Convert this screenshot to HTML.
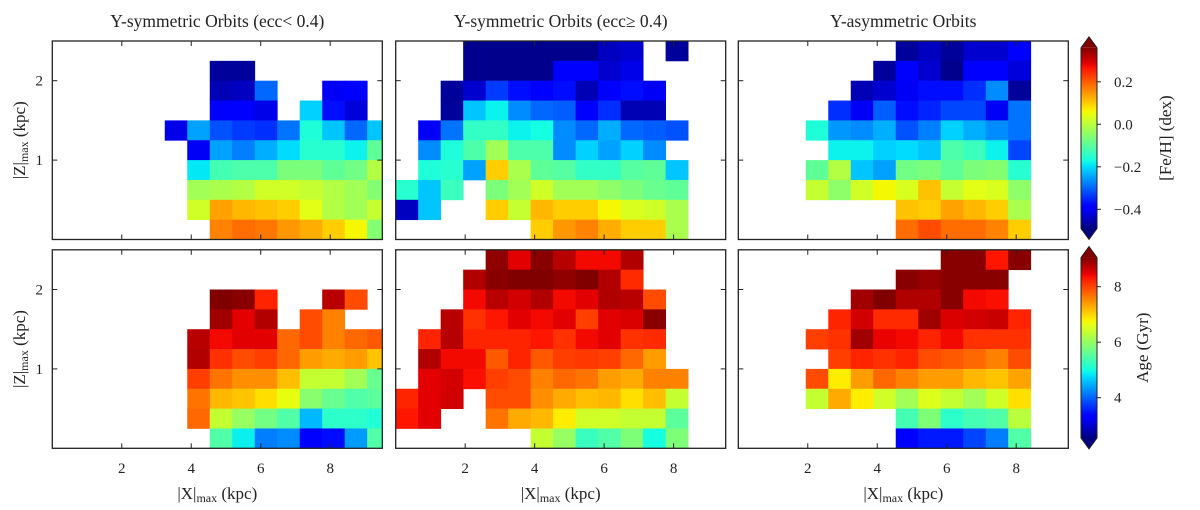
<!DOCTYPE html>
<html><head><meta charset="utf-8"><style>
html,body{margin:0;padding:0;background:#fff;}
svg{display:block;font-family:"Liberation Serif",serif;}
</style></head><body>
<svg id="chart" width="1200" height="510" viewBox="0 0 1200 510" xmlns="http://www.w3.org/2000/svg"></svg>
<script>
const _ = null;
const xTicks = [2, 4, 6, 8];
const yTicks = [1, 2];
const fehTicks = [0.2, 0.0, -0.2, -0.4];
const fehTickLabels = ["0.2", "0.0", "\u22120.2", "\u22120.4"];
const ageTicks = [8, 6, 4];
const ageTickLabels = ["8", "6", "4"];
const titles = ["Y-symmetric Orbits (ecc< 0.4)", "Y-symmetric Orbits (ecc\u2265 0.4)", "Y-asymmetric Orbits"];
const fehRange = [-0.49, 0.36];
const ageRange = [2.55, 9.05];
const fehCellRange = [-0.5, 0.38];
const ageCellRange = [2.25, 9.3];
const binWidth = 0.6475;
const binHeight = 0.25;
// rows listed from top (|Z| 2.25-2.5) to bottom (0-0.25), 15 |X| bins each
const feh1 = [
[_,_,_,_,_,_,_,_,_,_,_,_,_,_,_],
[_,_,_,_,_,_,_,-0.48,-0.48,_,_,_,_,_,_],
[_,_,_,_,_,_,_,-0.46,-0.45,-0.30,_,_,-0.41,-0.40,_],
[_,_,_,_,_,_,_,-0.40,-0.40,-0.42,_,-0.21,-0.38,-0.43,_],
[_,_,_,_,_,-0.42,-0.25,-0.32,-0.34,-0.35,-0.29,-0.16,-0.22,-0.30,-0.22],
[_,_,_,_,_,_,-0.41,-0.25,-0.28,-0.24,-0.20,-0.15,-0.15,-0.18,-0.09],
[_,_,_,_,_,_,-0.19,-0.12,-0.11,-0.11,-0.06,-0.06,-0.09,-0.07,0.00],
[_,_,_,_,_,_,-0.02,-0.01,0.00,0.03,0.03,0.02,0.00,-0.02,-0.05],
[_,_,_,_,_,_,0.03,0.15,0.13,0.12,0.11,0.05,0.00,-0.02,0.02],
[_,_,_,_,_,_,_,0.18,0.20,0.19,0.16,0.14,0.11,0.07,-0.05]];
const feh2 = [
[_,_,_,-0.49,-0.49,-0.49,-0.49,-0.49,-0.49,-0.45,-0.44,_,-0.48,_,_],
[_,_,_,-0.49,-0.49,-0.49,-0.49,-0.40,-0.40,-0.44,-0.42,_,_,_,_],
[_,_,-0.48,-0.44,-0.34,-0.38,-0.40,-0.38,-0.46,-0.40,-0.38,-0.41,_,_,_],
[_,_,-0.48,-0.22,-0.18,-0.27,-0.30,-0.31,-0.39,-0.35,-0.46,-0.46,_,_,_],
[_,-0.41,-0.29,-0.14,-0.14,-0.18,-0.17,-0.27,-0.30,-0.24,-0.30,-0.31,-0.32,_,_],
[_,-0.27,-0.16,-0.11,-0.02,-0.11,-0.11,-0.27,-0.21,-0.25,-0.21,-0.27,_,_,_],
[_,-0.16,-0.15,-0.25,0.11,-0.01,-0.09,-0.10,-0.14,-0.14,-0.10,-0.09,-0.22,_,_],
[-0.15,-0.22,-0.13,_,-0.06,-0.02,0.03,-0.02,-0.02,-0.04,-0.06,-0.08,-0.09,_,_],
[-0.45,-0.22,_,_,0.11,0.02,0.13,0.11,0.11,0.07,0.04,0.03,-0.01,_,_],
[_,_,_,_,_,_,0.11,0.16,0.18,0.14,0.11,0.11,-0.01,_,_]];
const feh3 = [
[_,_,_,_,_,_,_,-0.48,-0.45,-0.48,-0.44,-0.44,-0.39,_,_],
[_,_,_,_,_,_,-0.48,-0.40,-0.44,-0.49,-0.40,-0.40,-0.43,_,_],
[_,_,_,_,_,-0.46,-0.44,-0.41,-0.38,-0.38,-0.35,-0.27,-0.48,_,_],
[_,_,_,_,-0.35,-0.41,-0.31,-0.38,-0.36,-0.33,-0.33,-0.41,-0.29,_,_],
[_,_,_,-0.16,-0.26,-0.27,-0.24,-0.32,-0.28,-0.21,-0.24,-0.27,-0.29,_,_],
[_,_,_,_,-0.18,-0.18,-0.21,-0.20,-0.22,-0.11,-0.13,-0.18,-0.33,_,_],
[_,_,_,-0.09,0.00,-0.22,-0.25,-0.07,-0.06,-0.09,-0.06,-0.05,-0.15,_,_],
[_,_,_,0.02,-0.04,0.03,0.07,0.04,0.12,0.02,0.05,0.04,-0.04,_,_],
[_,_,_,_,_,_,_,0.12,0.11,0.15,0.13,0.11,-0.01,_,_],
[_,_,_,_,_,_,_,0.20,0.23,0.20,0.20,0.18,0.11,_,_]];
const age1 = [
[_,_,_,_,_,_,_,_,_,_,_,_,_,_,_],
[_,_,_,_,_,_,_,_,_,_,_,_,_,_,_],
[_,_,_,_,_,_,_,9.3,9.25,8.4,_,_,8.95,8.1,_],
[_,_,_,_,_,_,_,9.1,8.7,9.0,_,8.1,7.7,_,_],
[_,_,_,_,_,_,8.95,8.6,8.7,8.7,7.9,8.1,7.7,7.9,8.0],
[_,_,_,_,_,_,9.0,8.3,8.1,8.2,7.9,7.5,7.4,7.5,7.2],
[_,_,_,_,_,_,8.2,7.8,7.6,7.6,7.25,6.4,6.4,6.1,5.6],
[_,_,_,_,_,_,7.8,7.3,7.2,7.0,6.7,5.9,5.6,5.4,5.5],
[_,_,_,_,_,_,7.9,6.4,6.0,5.7,5.4,4.4,5.1,5.1,5.0],
[_,_,_,_,_,_,_,5.4,4.8,4.0,4.1,3.1,3.2,4.2,5.4]];
const age2 = [
[_,_,_,_,9.2,8.7,9.25,8.95,8.6,8.6,9.0,_,_,_,_],
[_,_,_,9.0,9.25,9.3,9.3,9.2,9.3,9.0,8.35,_,_,_,_],
[_,_,_,8.6,8.95,8.8,9.0,8.6,8.7,9.0,8.95,8.1,_,_,_],
[_,_,8.95,8.3,8.5,8.7,8.6,8.7,8.2,8.7,8.75,9.25,_,_,_],
[_,8.4,8.95,8.4,8.4,8.4,8.5,8.3,8.6,8.7,8.3,8.35,_,_,_],
[_,9.0,8.6,8.6,8.0,8.4,8.0,8.2,8.25,8.2,7.9,7.5,_,_,_],
[_,8.7,8.8,8.55,8.2,8.1,7.7,7.9,7.8,7.5,7.4,7.7,7.7,_,_],
[8.4,8.7,8.8,_,8.1,8.1,7.6,7.4,7.25,7.3,7.0,7.25,6.4,_,_],
[8.5,8.7,_,_,7.8,7.4,7.3,6.9,6.5,6.5,6.4,6.4,5.5,_,_],
[_,_,_,_,_,_,6.4,6.0,5.2,5.4,5.8,4.9,5.8,_,_]];
const age3 = [
[_,_,_,_,_,_,_,_,_,9.25,9.25,8.5,9.25,_,_],
[_,_,_,_,_,_,_,9.25,9.15,9.25,9.25,9.25,_,_,_],
[_,_,_,_,_,9.1,9.3,9.0,9.0,9.25,8.6,8.55,_,_,_],
[_,_,_,_,8.4,8.8,8.35,8.35,9.1,8.75,8.8,8.85,8.4,_,_],
[_,_,_,8.2,8.3,9.1,8.65,8.6,8.4,8.6,8.3,8.3,8.3,_,_],
[_,_,_,_,8.2,8.4,8.3,8.4,8.1,8.0,7.9,7.7,8.1,_,_],
[_,_,_,8.1,6.9,7.5,7.9,7.7,7.5,7.5,7.3,7.2,7.45,_,_],
[_,_,_,6.4,7.4,6.9,6.5,6.1,6.6,6.4,6.1,6.5,7.0,_,_],
[_,_,_,_,_,_,_,5.3,5.8,5.1,5.3,5.4,6.3,_,_],
[_,_,_,_,_,_,_,3.1,3.3,3.3,3.6,4.0,5.4,_,_]];

const NS = "http://www.w3.org/2000/svg";
const svg = document.getElementById("chart");
function mk(tag, attrs, parent) {
  const e = document.createElementNS(NS, tag);
  for (const k in attrs) e.setAttribute(k, attrs[k]);
  (parent || svg).appendChild(e);
  return e;
}
function clip(v){return Math.max(0,Math.min(1,v));}
function interp(pts, t){
  for (let i = 0; i < pts.length - 1; i++) {
    const a = pts[i], b = pts[i+1];
    if (t <= b[0]) return a[1] + (b[1]-a[1]) * (t - a[0]) / (b[0] - a[0]);
  }
  return pts[pts.length-1][1];
}
const JR = [[0,0],[0.35,0],[0.66,1],[0.89,1],[1,0.5]];
const JG = [[0,0],[0.125,0],[0.375,1],[0.64,1],[0.91,0],[1,0]];
const JB = [[0,0.5],[0.11,1],[0.34,1],[0.65,0],[1,0]];
function jet(t){
  t = clip(t);
  return "rgb(" + Math.round(interp(JR,t)*255) + "," + Math.round(interp(JG,t)*255) + "," + Math.round(interp(JB,t)*255) + ")";
}
const panelX0 = [52.3, 395.7, 738.3];
const panelY0 = [41, 249.8];
const pw = 330, ph = 198.5;
const xMax = 9.5, yMax = 2.5;

function drawPanel(col, row, data, range, name) {
  const g = mk("g", {});
  
  
  const x0 = panelX0[col], y0 = panelY0[row];
  const sx = v => x0 + v / xMax * pw;
  const sy = v => y0 + ph - v / yMax * ph;
  const cp = mk("clipPath", {id: "cp" + col + row}, g);
  mk("rect", {x: x0, y: y0, width: pw, height: ph}, cp);
  const cells = mk("g", {"clip-path": "url(#cp" + col + row + ")"}, g);
  const nRows = data.length;
  data.forEach((rowArr, ri) => {
    const zb = (nRows - 1 - ri) * binHeight;
    rowArr.forEach((v, ci) => {
      if (v === null) return;
      const xa = sx(ci * binWidth), xb = sx((ci + 1) * binWidth);
      const ya = sy(zb + binHeight), yb = sy(zb);
      const r = mk("rect", {x: xa, y: ya, width: xb - xa + 0.4, height: yb - ya + 0.4,
        fill: jet((v - range[0]) / (range[1] - range[0]))}, cells);
      
      
    });
  });
  const frame = mk("rect", {x: x0, y: y0, width: pw, height: ph, fill: "none", stroke: "#222", "stroke-width": 1.3}, g);
  
  
  xTicks.forEach(t => {
    mk("line", {x1: sx(t), x2: sx(t), y1: y0 + ph, y2: y0 + ph - 5, stroke: "#222", "stroke-width": 1}, g);
    mk("line", {x1: sx(t), x2: sx(t), y1: y0, y2: y0 + 5, stroke: "#222", "stroke-width": 1}, g);
    if (row === 1) {
      const tl = mk("text", {x: sx(t), y: 473, "font-size": 15, "text-anchor": "middle", fill: "#222"}, g);
      tl.textContent = t;
      
      
    }
  });
  yTicks.forEach(t => {
    mk("line", {x1: x0, x2: x0 + 5, y1: sy(t), y2: sy(t), stroke: "#222", "stroke-width": 1}, g);
    mk("line", {x1: x0 + pw, x2: x0 + pw - 5, y1: sy(t), y2: sy(t), stroke: "#222", "stroke-width": 1}, g);
    if (col === 0) {
      const tl = mk("text", {x: 43, y: sy(t) + 5, "font-size": 15, "text-anchor": "end", fill: "#222"}, g);
      tl.textContent = t;
      
      
    }
  });
  if (row === 1) {
    const xl = mk("text", {x: x0 + pw / 2, y: 499, "font-size": 17, "text-anchor": "middle", fill: "#222"}, g);
    
    
    xl.appendChild(document.createTextNode("|X|"));
    const s = mk("tspan", {"font-size": 12, dy: 3}, xl); s.textContent = "max";
    const s2 = mk("tspan", {dy: -3}, xl); s2.textContent = " (kpc)";
  }
  if (col === 0) {
    const cy = y0 + ph / 2;
    const yl = mk("text", {x: 0, y: 0, "font-size": 17, "text-anchor": "middle", fill: "#222",
      transform: "translate(25," + cy + ") rotate(-90)"}, g);
    
    
    yl.appendChild(document.createTextNode("|Z|"));
    const s = mk("tspan", {"font-size": 12, dy: 3}, yl); s.textContent = "max";
    const s2 = mk("tspan", {dy: -3}, yl); s2.textContent = " (kpc)";
  }
  if (row === 0) {
    const tt = mk("text", {x: x0 + pw / 2, y: 27, "font-size": 17.5, "text-anchor": "middle", fill: "#222"}, g);
    tt.textContent = titles[col];
    
    
  }
}
drawPanel(0, 0, feh1, fehCellRange, "feh-panel-ecc-low");
drawPanel(1, 0, feh2, fehCellRange, "feh-panel-ecc-high");
drawPanel(2, 0, feh3, fehCellRange, "feh-panel-asymmetric");
drawPanel(0, 1, age1, ageCellRange, "age-panel-ecc-low");
drawPanel(1, 1, age2, ageCellRange, "age-panel-ecc-high");
drawPanel(2, 1, age3, ageCellRange, "age-panel-asymmetric");

function drawColorbar(range, ticks, labels, yOf, title, titleX, name) {
  const g = mk("g", {});
  
  
  const cx0 = 1081, cw = 16;
  const yTop = yOf(range[1]), yBot = yOf(range[0]);
  const n = 80;
  for (let i = 0; i < n; i++) {
    const ya = yTop + (yBot - yTop) * i / n;
    mk("rect", {x: cx0, y: ya, width: cw, height: (yBot - yTop) / n + 0.5, fill: jet(1 - (i + 0.5) / n)}, g);
  }
  mk("polygon", {points: (cx0) + "," + yTop + " " + (cx0 + cw / 2) + "," + (yTop - 11) + " " + (cx0 + cw) + "," + yTop, fill: jet(1)}, g);
  mk("polygon", {points: (cx0) + "," + yBot + " " + (cx0 + cw / 2) + "," + (yBot + 11) + " " + (cx0 + cw) + "," + yBot, fill: jet(0)}, g);
  mk("polygon", {points: cx0 + "," + yTop + " " + (cx0 + cw / 2) + "," + (yTop - 11) + " " + (cx0 + cw) + "," + yTop + " " + (cx0 + cw) + "," + yBot + " " + (cx0 + cw / 2) + "," + (yBot + 11) + " " + cx0 + "," + yBot,
    fill: "none", stroke: "#222", "stroke-width": 1}, g);
  ticks.forEach((t, i) => {
    const y = yOf(t);
    mk("line", {x1: cx0 + cw, x2: cx0 + cw + 4, y1: y, y2: y, stroke: "#222"}, g);
    const tl = mk("text", {x: 1114, y: y + 5, "font-size": 15, fill: "#222"}, g);
    tl.textContent = labels[i];
    
    
  });
  const cy = (yTop + yBot) / 2;
  const tl = mk("text", {x: 0, y: 0, "font-size": 17, "text-anchor": "middle", fill: "#222",
    transform: "translate(" + titleX + "," + cy + ") rotate(-90)"}, g);
  tl.textContent = title;
  
  
}
drawColorbar(fehRange, fehTicks, fehTickLabels, v => 124.3 - v * 212.5, "[Fe/H] (dex)", 1171, "feh-colorbar");
drawColorbar(ageRange, ageTicks, ageTickLabels, v => 286.7 + (8 - v) * 27.75, "Age (Gyr)", 1148, "age-colorbar");
</script>
</body></html>
